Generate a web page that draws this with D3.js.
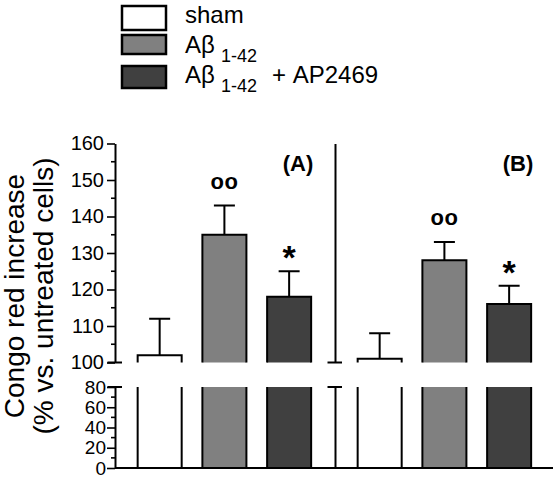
<!DOCTYPE html>
<html><head><meta charset="utf-8">
<script src="https://cdn.jsdelivr.net/npm/d3@7"></script>
<style>body{margin:0;background:#fff}svg{display:block}text{font-family:"Liberation Sans",Arial,sans-serif}</style>
</head><body><svg id="c" width="553" height="481"></svg>
<script>
const groups = ["sham", "Aβ1-42", "Aβ1-42 + AP2469"];
const colors = ["#ffffff", "#808080", "#404040"];
const panelA = [102, 135, 118];
const errA = [10, 8, 7];
const panelB = [101, 128, 116];
const errB = [7, 5, 5];
const upperTicks = [100, 110, 120, 130, 140, 150, 160];
const lowerTicks = [0, 20, 40, 60, 80];
const annotA = ["", "oo", "*"];
const annotB = ["", "oo", "*"];

const svg = d3.select("#c");
const yU = d3.scaleLinear().domain([100, 160]).range([362.5, 143.5]);
const yL = d3.scaleLinear().domain([0, 80]).range([468, 387]);

const panels = [
  {name: "(A)", axisX: 115, vals: panelA, errs: errA, ann: annotA, labels: true, end: 333},
  {name: "(B)", axisX: 335, vals: panelB, errs: errB, ann: annotB, labels: false, end: 553}
];

panels.forEach(p => {
  const x = d3.scaleBand().domain(groups)
    .range([p.axisX + 12.3, p.axisX + 206.5]).paddingInner(0.32).paddingOuter(0.16);
  const g = svg.append("g");
  const bw = x.bandwidth();
  groups.forEach((grp, i) => {
    const x0 = x(grp), x1 = x0 + bw, v = p.vals[i];
    g.append("rect").attr("x", x0).attr("y", yU(v)).attr("width", bw)
      .attr("height", yU(100) - yU(v)).attr("fill", colors[i]);
    g.append("path").attr("d", `M${x0},${yU(100)}V${yU(v)}H${x1}V${yU(100)}`)
      .attr("fill", "none").attr("stroke", "#000").attr("stroke-width", 2);
    g.append("rect").attr("x", x0).attr("y", yL(80)).attr("width", bw)
      .attr("height", yL(0) - yL(80)).attr("fill", colors[i]);
    g.append("path").attr("d", `M${x0},${yL(80)}V${yL(0)}M${x1},${yL(80)}V${yL(0)}`)
      .attr("fill", "none").attr("stroke", "#000").attr("stroke-width", 2);
    const cx = x0 + bw / 2, top = yU(v + p.errs[i]);
    g.append("path").attr("d", `M${cx},${yU(v)}V${top}M${cx - 10.5},${top}H${cx + 10.5}`)
      .attr("fill", "none").attr("stroke", "#000").attr("stroke-width", 2);
    if (p.ann[i] === "oo") {
      g.append("text").attr("x", cx).attr("y", top - 17).attr("text-anchor", "middle")
        .attr("font-size", 22).attr("font-weight", "bold").attr("letter-spacing", 0.5).text("oo");
    } else if (p.ann[i] === "*") {
      g.append("text").attr("x", cx).attr("y", top - 2).attr("text-anchor", "middle")
        .attr("font-size", 34).attr("font-weight", "bold").text("*");
    }
  });
  g.append("text").attr("x", p.axisX + 183).attr("y", 171).attr("text-anchor", "middle")
    .attr("font-size", 22).attr("font-weight", "bold").text(p.name);

  const axU = d3.axisLeft(yU).tickValues(upperTicks).tickSize(8).tickSizeOuter(0)
    .tickFormat(p.labels ? d3.format("d") : "");
  const gU = g.append("g").attr("transform", `translate(${p.axisX},0)`).call(axU);
  gU.select(".domain").attr("stroke-width", 2);
  gU.selectAll(".tick line").attr("stroke-width", 1.6);
  gU.selectAll(".tick text").attr("font-size", 20).attr("x", -11);
  if (!p.labels) gU.selectAll(".tick").remove();
  if (p.labels) {
    const minor = d3.range(105, 160, 10);
    gU.selectAll(".minor").data(minor).enter().append("line")
      .attr("x1", -4).attr("x2", 0).attr("y1", d => yU(d)).attr("y2", d => yU(d))
      .attr("stroke", "#000").attr("stroke-width", 1.6);
  }
  g.append("line").attr("x1", p.axisX - 7.5).attr("x2", p.axisX + 7).attr("y1", yU(100)).attr("y2", yU(100))
    .attr("stroke", "#000").attr("stroke-width", 2);

  const axL = d3.axisLeft(yL).tickValues(lowerTicks).tickSize(8).tickSizeOuter(0)
    .tickFormat(p.labels ? d3.format("d") : "");
  const gL = g.append("g").attr("transform", `translate(${p.axisX},0)`).call(axL);
  gL.select(".domain").attr("stroke-width", 2);
  gL.selectAll(".tick line").attr("stroke-width", 1.6);
  gL.selectAll(".tick text").attr("font-size", 19).attr("x", -9);
  if (!p.labels) gL.selectAll(".tick").remove();
  if (p.labels) {
    const minorL = d3.range(10, 80, 20);
    gL.selectAll(".minor").data(minorL).enter().append("line")
      .attr("x1", -4).attr("x2", 0).attr("y1", d => yL(d)).attr("y2", d => yL(d))
      .attr("stroke", "#000").attr("stroke-width", 1.6);
  }
  g.append("line").attr("x1", p.axisX - 7.5).attr("x2", p.axisX + 7).attr("y1", yL(80)).attr("y2", yL(80))
    .attr("stroke", "#000").attr("stroke-width", 2);
  g.append("line").attr("x1", p.axisX - (p.labels ? 0 : 4)).attr("x2", p.end).attr("y1", yL(0)).attr("y2", yL(0))
    .attr("stroke", "#000").attr("stroke-width", 2);
});

const yt = svg.append("text").attr("transform", "translate(24,296) rotate(-90)")
  .attr("text-anchor", "middle").attr("font-size", 28);
yt.append("tspan").attr("x", 0).attr("y", 0).text("Congo red increase");
yt.append("tspan").attr("x", 0).attr("y", 29).text("(% vs. untreated cells)");

const legBoxes = [[6, 30], [35, 54], [66, 88]];
const legY = [23, 53, 83];
groups.forEach((grp, i) => {
  svg.append("rect").attr("x", 122).attr("y", legBoxes[i][0]).attr("width", 44)
    .attr("height", legBoxes[i][1] - legBoxes[i][0]).attr("fill", colors[i])
    .attr("stroke", "#000").attr("stroke-width", 2.5);
  const t = svg.append("text").attr("x", 185).attr("y", legY[i]).attr("font-size", 24);
  if (i === 0) { t.text("sham"); }
  else {
    t.append("tspan").text("Aβ");
    t.append("tspan").attr("x", 221).attr("dy", 8.5).attr("font-size", 18).text("1-42");
    if (i === 2) t.append("tspan").attr("x", 272).attr("dy", -8.5).attr("font-size", 24).text("+ AP2469");
  }
});
</script></body></html>
